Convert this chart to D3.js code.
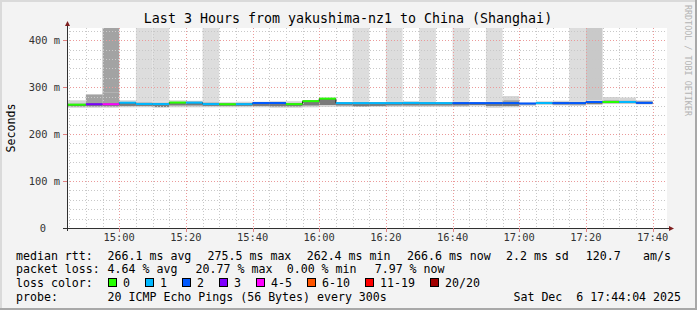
<!DOCTYPE html>
<html>
<head>
<meta charset="utf-8">
<script src="https://cdn.jsdelivr.net/npm/d3@7"></script>
<style>
  body { margin: 0; background: #f3f3f3; }
  text { font-family: "DejaVu Sans Mono", monospace; white-space: pre; }
</style>
</head>
<body>
<div id="chart"></div>
<script>

// 5 minute bins (end time of each step)
var binEnd = ["14:50","14:55","15:00","15:05","15:10","15:15","15:20","15:25","15:30","15:35",
              "15:40","15:45","15:50","15:55","16:00","16:05","16:10","16:15","16:20","16:25",
              "16:30","16:35","16:40","16:45","16:50","16:55","17:00","17:05","17:10","17:15",
              "17:20","17:25","17:30","17:35","17:40"];

// median rtt in ms
var median = [262.6, 263.6, 263.6, 266.8, 264.2, 264.0, 267.2, 267.0, 264.0, 263.6,
              263.8, 266.2, 266.2, 263.8, 270.2, 275.5, 266.0, 266.0, 266.0, 266.0,
              266.4, 266.0, 266.0, 266.0, 266.0, 266.0, 266.0, 265.2, 266.2, 266.0,
              266.0, 268.4, 268.4, 268.4, 266.6];

// index into lossColors
var lossLevel = [0, 3, 4, 1, 1, 1, 0, 1, 1, 0,
                 1, 2, 2, 0, 0, 0, 1, 1, 1, 1,
                 1, 1, 1, 2, 2, 2, 2, 2, 1, 2,
                 2, 2, 0, 1, 2];

// smoke: outer and inner band edges in ms
var smokeLo = [256, 256, 256, 257, 257, 256, 257, 257, 257, 257,
               257, 257, 256, 256, 257, 258, 258, 258, 258, 258,
               258, 258, 258, 258, 259, 256, 257, 260, 262, 261,
               260, 262, 264, 264, 263];
var coreLo  = [259, 259, 259, 260, 260, 258, 261, 261, 260, 260,
               260, 260, 259, 259, 261, 262, 261, 259, 260, 261,
               261, 261, 261, 261, 262, 260, 260, 263, 264, 263,
               263, 264, 266, 266, 265];
var coreHi  = [265, 284, 289, 268, 267, 266, 268, 269, 267, 265,
               265, 267, 267, 265, 271, 276, 266, 266, 266, 266,
               267, 266, 266, 266, 266, 267, 272, 266, 267, 268,
               268, 270, 272, 271, 270];
var smokeHi = [272, 285, 289, 272, 270, 269, 272, 271, 270, 268,
               269, 269, 270, 270, 272, 278, 268, 268, 268, 268,
               270, 268, 268, 268, 267, 269, 281, 267, 270, 271,
               270, 272, 279, 278, 272];
// pings above the graph top: 0 none, 1 few, 2 more, 3 many
var spike   = [0, 0, 3, 0, 1, 1, 0, 0, 1, 0,
               0, 0, 0, 0, 0, 0, 0, 1, 0, 1,
               0, 1, 0, 1, 0, 1, 0, 0, 0, 0,
               1, 2, 0, 0, 0];

var lossColors = ["#26ff00", "#00b8ff", "#0059ff", "#7e00ff", "#ff00ff", "#ff5500", "#ff0000", "#a10000"];
var lossLabels = ["0", "1", "2", "3", "4-5", "6-10", "11-19", "20/20"];

var yTicks = [0, 100, 200, 300, 400];
var yTickLabels = ["0", "100 m", "200 m", "300 m", "400 m"];
var xTicks = ["15:00", "15:20", "15:40", "16:00", "16:20", "16:40", "17:00", "17:20", "17:40"];

var titleText = "Last 3 Hours from yakushima-nz1 to China (Shanghai)";
var rttLegend = ["median rtt:", "266.1 ms avg", "275.5 ms max", "262.4 ms min", "266.6 ms now", "2.2 ms sd", "120.7", "am/s"];
var lossLegend = ["packet loss:", "4.64 % avg", "20.77 % max", "0.00 % min", "7.97 % now"];
var probeText = "20 ICMP Echo Pings (56 Bytes) every 300s";
var dateText = "Sat Dec  6 17:44:04 2025";


var width = 697, height = 310;
var plotLeft = 67, plotRight = 667, plotTop = 28, plotBottom = 228;

var parse = d3.timeParse("%H:%M:%S");
var tStart = parse("14:44:20"), tEnd = parse("17:44:20");

var x = d3.scaleTime().domain([tStart, tEnd]).range([plotLeft, plotRight]);
var y = d3.scaleLinear().domain([0, 426]).range([plotBottom, plotTop]);

var svg = d3.select("#chart").append("svg")
    .attr("width", width)
    .attr("height", height);

// background + 3d border
svg.append("rect").attr("width", width).attr("height", height).attr("fill", "#f3f3f3");
svg.append("rect").attr("x", 0).attr("y", 0).attr("width", width).attr("height", 2).attr("fill", "#dadada");
svg.append("rect").attr("x", 0).attr("y", 0).attr("width", 2).attr("height", height).attr("fill", "#dadada");
svg.append("rect").attr("x", 0).attr("y", height - 2).attr("width", width).attr("height", 2).attr("fill", "#a8a8a8");
svg.append("rect").attr("x", width - 2).attr("y", 0).attr("width", 2).attr("height", height).attr("fill", "#a8a8a8");

svg.append("rect")
    .attr("x", plotLeft).attr("y", plotTop)
    .attr("width", plotRight - plotLeft).attr("height", plotBottom - plotTop)
    .attr("fill", "#ffffff");

var bins = binEnd.map(function(t, i) {
    return {
        x0: i == 0 ? tStart : parse(binEnd[i - 1] + ":00"),
        x1: parse(t + ":00"),
        med: median[i], loss: lossLevel[i],
        lo: smokeLo[i], clo: coreLo[i], chi: coreHi[i], hi: smokeHi[i],
        spike: spike[i]
    };
});

var spikeColor = ["none", "#dddddd", "#c9c9c9", "#a3a3a3"];

var smoke = svg.append("g");

// columns for pings above the top of the graph
smoke.selectAll(".spike")
    .data(bins.filter(function(d) { return d.spike > 0; }))
    .enter().append("rect")
    .attr("x", function(d) { return x(d.x0); })
    .attr("width", function(d) { return x(d.x1) - x(d.x0); })
    .attr("y", plotTop)
    .attr("height", function(d) { return y(d.hi) - plotTop; })
    .attr("fill", function(d) { return spikeColor[d.spike]; });

smoke.selectAll(".outer")
    .data(bins).enter().append("rect")
    .attr("x", function(d) { return x(d.x0); })
    .attr("width", function(d) { return x(d.x1) - x(d.x0); })
    .attr("y", function(d) { return y(d.hi); })
    .attr("height", function(d) { return y(d.lo) - y(d.hi); })
    .attr("fill", "#d4d4d4");

smoke.selectAll(".coreUp")
    .data(bins).enter().append("rect")
    .attr("x", function(d) { return x(d.x0); })
    .attr("width", function(d) { return x(d.x1) - x(d.x0); })
    .attr("y", function(d) { return y(d.chi); })
    .attr("height", function(d) { return y(d.med) - y(d.chi); })
    .attr("fill", "#a2a2a2");

smoke.selectAll(".coreDown")
    .data(bins).enter().append("rect")
    .attr("x", function(d) { return x(d.x0); })
    .attr("width", function(d) { return x(d.x1) - x(d.x0); })
    .attr("y", function(d) { return y(d.med); })
    .attr("height", function(d) { return y(d.clo) - y(d.med); })
    .attr("fill", "#7a7a7a");

// grid
var grid = svg.append("g");
var minorY = d3.range(0, 426, 20);
var minorX = d3.timeMinute.every(5).range(tStart, tEnd);

grid.selectAll(".gy").data(minorY).enter().append("line")
    .attr("x1", plotLeft).attr("x2", plotRight)
    .attr("y1", function(d) { return Math.round(y(d)) + 0.5; })
    .attr("y2", function(d) { return Math.round(y(d)) + 0.5; })
    .attr("stroke", function(d) { return d % 100 == 0 ? "#eb9a9a" : "#c8c8c8"; })
    .attr("stroke-dasharray", "1,2");

grid.selectAll(".gx").data(minorX).enter().append("line")
    .attr("y1", plotTop).attr("y2", plotBottom)
    .attr("x1", function(d) { return Math.round(x(d)) + 0.5; })
    .attr("x2", function(d) { return Math.round(x(d)) + 0.5; })
    .attr("stroke", function(d) { return d.getMinutes() % 20 == 0 ? "#eb9a9a" : "#c8c8c8"; })
    .attr("stroke-dasharray", "1,2");

// median: thin step line then coloured segments
var step = d3.line()
    .x(function(d) { return d[0]; })
    .y(function(d) { return d[1]; });
var pts = [];
bins.forEach(function(d) {
    pts.push([x(d.x0), y(d.med)]);
    pts.push([x(d.x1), y(d.med)]);
});
svg.append("path")
    .attr("d", step(pts))
    .attr("fill", "none")
    .attr("stroke", "#202020")
    .attr("stroke-width", 1);

svg.selectAll(".med")
    .data(bins).enter().append("rect")
    .attr("x", function(d) { return x(d.x0); })
    .attr("width", function(d) { return x(d.x1) - x(d.x0); })
    .attr("y", function(d) { return y(d.med) - 1; })
    .attr("height", 2)
    .attr("fill", function(d) { return lossColors[d.loss]; });

// axes
var axisCol = "#303030";
svg.append("line")
    .attr("x1", plotLeft + 0.5).attr("x2", plotLeft + 0.5)
    .attr("y1", plotBottom + 3).attr("y2", plotTop - 3)
    .attr("stroke", axisCol);
svg.append("line")
    .attr("x1", plotLeft - 4).attr("x2", plotRight + 3)
    .attr("y1", plotBottom + 0.5).attr("y2", plotBottom + 0.5)
    .attr("stroke", axisCol);
svg.append("path")
    .attr("d", "M" + (plotLeft - 2) + "," + (plotTop - 2) + "L" + (plotLeft + 0.5) + "," + (plotTop - 7) + "L" + (plotLeft + 3) + "," + (plotTop - 2) + "Z")
    .attr("fill", "#7f1f1f");
svg.append("path")
    .attr("d", "M" + (plotRight + 2) + "," + (plotBottom - 2) + "L" + (plotRight + 7) + "," + (plotBottom + 0.5) + "L" + (plotRight + 2) + "," + (plotBottom + 3) + "Z")
    .attr("fill", "#7f1f1f");

// tick marks
svg.selectAll(".ty").data(yTicks).enter().append("line")
    .attr("x1", plotLeft - 4).attr("x2", plotLeft)
    .attr("y1", function(d) { return Math.round(y(d)) + 0.5; })
    .attr("y2", function(d) { return Math.round(y(d)) + 0.5; })
    .attr("stroke", function(d) { return d == 0 ? axisCol : "#e08080"; });
svg.selectAll(".tx").data(xTicks).enter().append("line")
    .attr("y1", plotBottom).attr("y2", plotBottom + 4)
    .attr("x1", function(d) { return Math.round(x(parse(d + ":00"))) + 0.5; })
    .attr("x2", function(d) { return Math.round(x(parse(d + ":00"))) + 0.5; })
    .attr("stroke", "#e08080");

// tick labels
svg.selectAll(".ly").data(yTicks).enter().append("text")
    .attr("x", function(d, i) { return i == 0 ? 46 : 60; })
    .attr("y", function(d) { return y(d) + 3.8; })
    .attr("text-anchor", "end")
    .attr("font-size", "10.4px")
    .attr("fill", "#333")
    .text(function(d, i) { return yTickLabels[i]; });

svg.selectAll(".lx").data(xTicks).enter().append("text")
    .attr("x", function(d) { return x(parse(d + ":00")); })
    .attr("y", 240.5)
    .attr("text-anchor", "middle")
    .attr("font-size", "10.4px")
    .attr("fill", "#333")
    .text(function(d) { return d; });

// titles
svg.append("text")
    .attr("x", 348).attr("y", 22.5)
    .attr("text-anchor", "middle")
    .attr("font-size", "13.3px")
    .attr("fill", "#000")
    .text(titleText);

svg.append("text")
    .attr("transform", "translate(15," + ((plotTop + plotBottom) / 2) + ") rotate(-90)")
    .attr("text-anchor", "middle")
    .attr("font-size", "11.6px")
    .attr("fill", "#000")
    .text("Seconds");

svg.append("text")
    .attr("transform", "translate(685,5) rotate(90)")
    .attr("font-size", "8.4px")
    .attr("fill", "#b4b4b4")
    .text("RRDTOOL / TOBI OETIKER");

// legend
var legendFont = "11.6px";
var rowY = [259.5, 273.3, 287.1, 300.8];
var rttX = [16, 107.6, 207.6, 306.7, 407, 506, 585.8, 643];
var lossX = [16, 107.6, 195.6, 286.7, 374.7];

svg.selectAll(".rtt").data(rttLegend).enter().append("text")
    .attr("x", function(d, i) { return rttX[i]; })
    .attr("y", rowY[0])
    .attr("font-size", legendFont)
    .text(function(d) { return d; });

svg.selectAll(".pl").data(lossLegend).enter().append("text")
    .attr("x", function(d, i) { return lossX[i]; })
    .attr("y", rowY[1])
    .attr("font-size", legendFont)
    .text(function(d) { return d; });

svg.append("text").attr("x", 16).attr("y", rowY[2]).attr("font-size", legendFont).text("loss color:");

var lx = 108;
var swatch = svg.append("g");
lossLabels.forEach(function(lab, i) {
    swatch.append("rect")
        .attr("x", lx + 0.5).attr("y", 278.5)
        .attr("width", 8).attr("height", 8)
        .attr("fill", lossColors[i])
        .attr("stroke", "#000");
    swatch.append("text")
        .attr("x", lx + 15).attr("y", rowY[2])
        .attr("font-size", legendFont)
        .text(lab);
    lx += 37 + (lab.length - 1) * 7;
});

svg.append("text").attr("x", 16).attr("y", rowY[3]).attr("font-size", legendFont).text("probe:");
svg.append("text").attr("x", 107.6).attr("y", rowY[3]).attr("font-size", legendFont).text(probeText);
svg.append("text").attr("x", 681).attr("y", rowY[3]).attr("text-anchor", "end").attr("font-size", legendFont).text(dateText);

</script>
</body>
</html>
